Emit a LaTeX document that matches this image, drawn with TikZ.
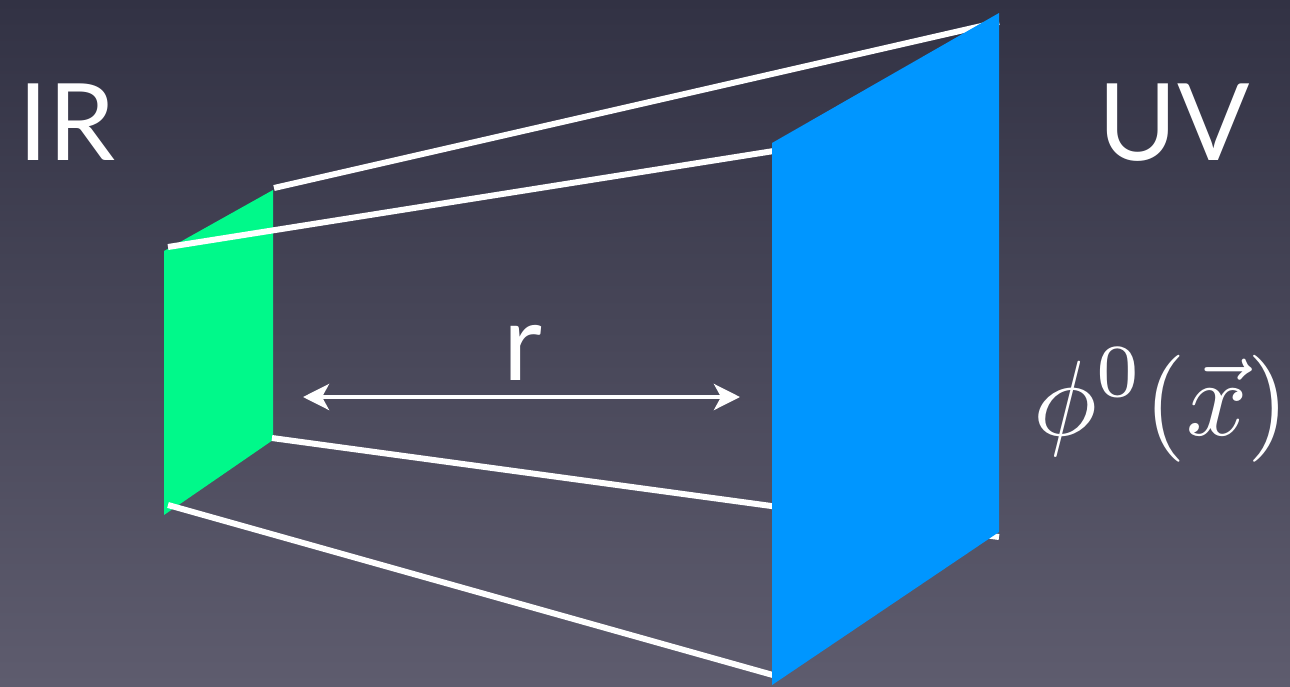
\documentclass[tikz,border=0pt]{standalone}
\usepackage{graphicx}
\usepackage{fontspec}
\setmainfont{Lato}
\usetikzlibrary{arrows.meta}
\definecolor{bgtop}{RGB}{50,50,68}
\definecolor{bgbot}{RGB}{94,92,110}
\definecolor{irgreen}{RGB}{0,249,138}
\definecolor{uvblue}{RGB}{0,150,255}
\tikzset{
  edgeline/.style={draw=white, line width=6pt, line cap=butt},
  plane/.style={draw=none},
  distarrow/.style={draw=white, line width=4pt, {Stealth[length=26pt,width=26pt,inset=7pt]}-{Stealth[length=26pt,width=26pt,inset=7pt]}},
  biglabel/.style={text=white, inner sep=0pt, font=\fontsize{107}{110}\selectfont}
}
\begin{document}
\begin{tikzpicture}[x=1pt,y=-1pt]
\shade[top color=bgtop, bottom color=bgbot] (0,0) rectangle (1290,686);
\useasboundingbox (0,0) rectangle (1290,686);
% corners
\coordinate (g1) at (164,251);
\coordinate (g2) at (273,190);
\coordinate (g3) at (273,440);
\coordinate (g4) at (164,515);
\coordinate (b1) at (772,143);
\coordinate (b2) at (999,13);
\coordinate (b3) at (999,532);
\coordinate (b4) at (772,685);
% line ends
\coordinate (l1s) at (274,188);
\coordinate (l1e) at (999,22);
\coordinate (l2s) at (168,247);
\coordinate (l2e) at (780,150);
\coordinate (l3s) at (272,438);
\coordinate (l3e) at (999,537);
\coordinate (l4s) at (168,505);
\coordinate (l4e) at (780,677);
\fill[irgreen, plane] (g1) -- (g2) -- (g3) -- (g4) -- cycle;
\draw[edgeline] (l1s) -- (l1e);
\draw[edgeline] (l2s) -- (l2e);
\draw[edgeline] (l3s) -- (l3e);
\draw[edgeline] (l4s) -- (l4e);
\fill[uvblue, plane] (b1) -- (b2) -- (b3) -- (b4) -- cycle;
\coordinate (al) at (303,397);
\coordinate (ar) at (740,397);
\draw[distarrow] (al) -- (ar);
\node[biglabel, anchor=base] (r) at (523,380) {r};
\node[biglabel, anchor=base west] (ir) at (18,160) {IR};
\node[biglabel, anchor=base east] (uv) at (1250,160) {UV};
\node[text=white, inner sep=0pt, anchor=base west] (phi) at (1033,435) {\scalebox{10.7}{$\phi^0(\vec{x})$}};
\end{tikzpicture}
\end{document}
